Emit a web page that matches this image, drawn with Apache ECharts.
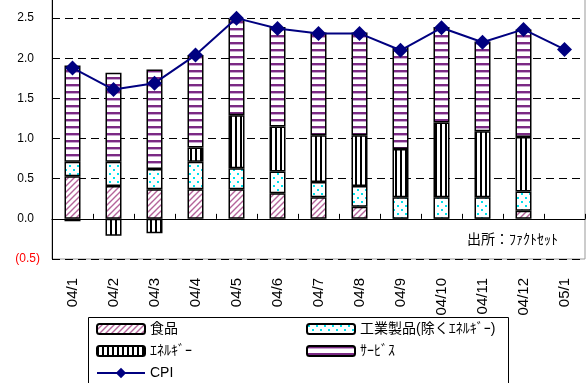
<!DOCTYPE html>
<html>
<head>
<meta charset="utf-8">
<script src="https://cdn.jsdelivr.net/npm/echarts@6/dist/echarts.min.js"></script>
<style>
  html, body { margin: 0; padding: 0; background: #fff; }
  #chart { width: 587px; height: 383px; }
</style>
</head>
<body>
<div id="chart"></div>
<script>
// データ（前年比%）
const categories = ['04/1', '04/2', '04/3', '04/4', '04/5', '04/6', '04/7', '04/8', '04/9', '04/10', '04/11', '04/12', '05/1']
const food       = [0.53, 0.41, 0.37, 0.37, 0.37, 0.32, 0.27, 0.15, -0.01, -0.01, -0.01, 0.10, null]
const industrial = [0.18, 0.30, 0.25, 0.34, 0.26, 0.27, 0.19, 0.26, 0.27, 0.27, 0.27, 0.24, null]
const energy     = [-0.03, -0.21, -0.18, 0.18, 0.66, 0.56, 0.58, 0.63, 0.60, 0.93, 0.82, 0.68, null]
const services   = [1.20, 1.11, 1.24, 1.15, 1.20, 1.24, 1.28, 1.28, 1.27, 1.19, 1.12, 1.34, null]
const cpi        = [1.88, 1.61, 1.69, 2.04, 2.50, 2.37, 2.31, 2.31, 2.10, 2.38, 2.20, 2.36, 2.11]

const FONT = '"Liberation Sans", "Noto Sans CJK JP", sans-serif'

// 塗りパターン
const makeCanvas = (w, h) => {
  const c = document.createElement('canvas')
  c.width = w; c.height = h
  const g = c.getContext('2d')
  g.fillStyle = '#fff'
  g.fillRect(0, 0, w, h)
  return [c, g]
}

const hatch = () => {
  const [c, g] = makeCanvas(6, 6)
  g.strokeStyle = '#b4649a'
  g.lineWidth = 1.4
  g.beginPath()
  g.moveTo(-1, 7); g.lineTo(7, -1)
  g.moveTo(-1, 1); g.lineTo(1, -1)
  g.moveTo(5, 7); g.lineTo(7, 5)
  g.stroke()
  return c
}

const dots = () => {
  const [c, g] = makeCanvas(8, 8)
  g.fillStyle = '#00e0ec'
  g.fillRect(1, 1, 2, 2)
  g.fillRect(5, 5, 2, 2)
  return c
}

const vstripes = () => {
  const [c, g] = makeCanvas(5, 2)
  g.fillStyle = '#000'
  g.fillRect(0, 0, 2, 2)
  return c
}

const hstripes = () => {
  const [c, g] = makeCanvas(1, 7)
  g.fillStyle = '#7b2a84'
  g.fillRect(0, 0, 1, 2)
  g.fillStyle = '#c9a6d1'
  g.fillRect(0, 2, 1, 1)
  return c
}

const pat = (c) => ({ image: c, repeat: 'repeat' })

const barSeries = (name, data, canvas) => ({
  name,
  type: 'bar',
  stack: 'cpi',
  data,
  barWidth: 16,
  itemStyle: { color: pat(canvas), borderColor: '#000', borderWidth: 1.5 }
})

const legendText = { fontSize: 14, color: '#000', lineHeight: 16, fontFamily: FONT }

const myChart = echarts.init(document.getElementById('chart'))

const option = {
  animation: false,
  textStyle: { fontFamily: FONT },
  grid: {
    left: 52, right: 2, top: -22, bottom: 124,
    outerBoundsMode: 'none',
    containLabel: false,
    show: true, borderColor: '#999', borderWidth: 1
  },
  legend: [
    {
      data: ['食品', 'ｴﾈﾙｷﾞｰ'],
      orient: 'vertical',
      left: 96, top: 321,
      padding: 0,
      itemWidth: 48, itemHeight: 10, itemGap: 6,
      textStyle: legendText
    },
    {
      data: ['CPI'],
      orient: 'vertical',
      left: 96, top: 365,
      padding: 0,
      itemWidth: 48, itemHeight: 13,
      textStyle: legendText
    },
    {
      data: ['工業製品(除くｴﾈﾙｷﾞｰ)', 'ｻｰﾋﾞｽ'],
      orient: 'vertical',
      left: 306, top: 321,
      padding: 0,
      itemWidth: 48, itemHeight: 10, itemGap: 6,
      textStyle: legendText
    }
  ],
  graphic: [
    {
      type: 'rect',
      shape: { x: 88.5, y: 317.5, width: 420, height: 80 },
      style: { fill: 'none', stroke: '#000', lineWidth: 1 },
      z: 0
    },
    {
      type: 'text',
      left: 467, top: 233,
      style: { text: '出所：ﾌｧｸﾄｾｯﾄ', fontSize: 14, fill: '#000', fontFamily: FONT }
    }
  ],
  xAxis: [
    {
      type: 'category',
      data: categories,
      axisLine: { onZero: true, lineStyle: { color: '#000', width: 1 } },
      axisTick: { show: true, inside: true, length: 5, lineStyle: { color: '#000' } },
      axisLabel: { show: false }
    },
    {
      type: 'category',
      data: categories,
      position: 'bottom',
      axisLine: { show: false, onZero: false },
      axisTick: { show: false },
      axisLabel: { rotate: 90, margin: 19, fontSize: 15, color: '#000', fontFamily: FONT }
    }
  ],
  yAxis: {
    type: 'value',
    min: -0.5,
    max: 3.0,
    interval: 0.5,
    axisLine: { show: true, lineStyle: { color: '#000', width: 1 } },
    axisTick: { show: false },
    splitLine: { lineStyle: { color: '#000', type: [8, 5], width: 1 } },
    axisLabel: {
      margin: 12,
      fontSize: 12,
      color: '#000',
      fontFamily: FONT,
      formatter: (v) => v < 0 ? '{n|(' + (-v).toFixed(1) + ')}' : '{p|' + v.toFixed(1) + '}',
      rich: {
        n: { color: '#ff0000', fontSize: 12, fontFamily: FONT },
        p: { color: '#000', fontSize: 12, fontFamily: FONT, padding: [0, 6, 0, 0] }
      }
    }
  },
  series: [
    barSeries('食品', food, hatch()),
    barSeries('工業製品(除くｴﾈﾙｷﾞｰ)', industrial, dots()),
    barSeries('ｴﾈﾙｷﾞｰ', energy, vstripes()),
    barSeries('ｻｰﾋﾞｽ', services, hstripes()),
    {
      name: 'CPI',
      type: 'line',
      data: cpi,
      symbol: 'diamond',
      symbolSize: 15,
      z: 5,
      lineStyle: { color: '#000080', width: 2 },
      itemStyle: { color: '#000080' }
    }
  ]
}

myChart.setOption(option)
</script>
</body>
</html>
